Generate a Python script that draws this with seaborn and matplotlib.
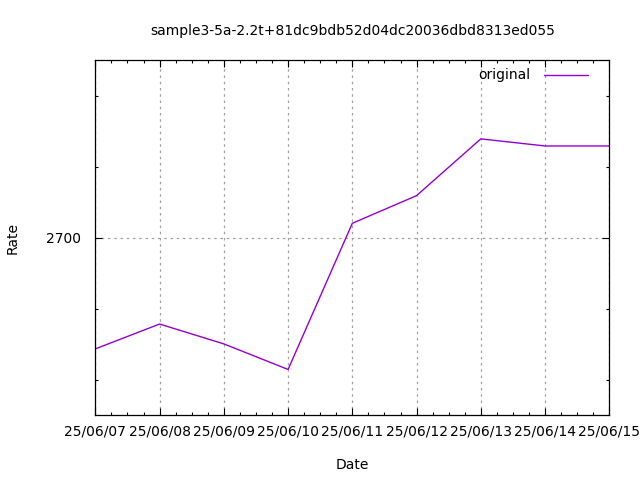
import matplotlib
matplotlib.use("Agg")
import matplotlib.pyplot as plt
import matplotlib.dates as mdates
from matplotlib.ticker import MultipleLocator
import seaborn as sns
import pandas as pd

dates = ["2025-06-07", "2025-06-08", "2025-06-09", "2025-06-10", "2025-06-11",
         "2025-06-12", "2025-06-13", "2025-06-14", "2025-06-15"]
rates = [2668.7, 2675.7, 2670.1, 2662.9, 2704.1, 2711.9, 2727.9, 2725.9, 2725.9]
tick_labels = ["25/06/07", "25/06/08", "25/06/09", "25/06/10", "25/06/11",
               "25/06/12", "25/06/13", "25/06/14", "25/06/15"]
series_name = "original"
title = "sample3-5a-2.2t+81dc9bdb52d04dc20036dbd8313ed055"

sns.set_style("ticks")
plt.rcParams["font.family"] = ["DejaVu Sans"]
plt.rcParams["text.color"] = "black"
plt.rcParams["axes.labelcolor"] = "black"
FS = 10
plt.rcParams["font.size"] = FS

df = pd.DataFrame({"Date": pd.to_datetime(dates), "Rate": rates, "series": series_name})

fig = plt.figure(figsize=(6.4, 4.8), dpi=100)
ax = fig.add_axes([0.149, 0.135, 0.803, 0.739])
sns.lineplot(data=df, x="Date", y="Rate", hue="series", palette=["#9400D3"],
             linewidth=1.0, ax=ax)

xd = pd.to_datetime(dates)
ax.set_xlim(xd[0], xd[-1])
ax.set_ylim(2650, 2750)
ax.set_xticks(xd)
ax.set_xticklabels(tick_labels)
ax.xaxis.set_minor_locator(mdates.HourLocator(byhour=[6, 12, 18]))
ax.set_yticks([2700])
ax.yaxis.set_minor_locator(MultipleLocator(20))

ax.grid(True, which="major", color="#a0a0a0", linestyle=(0, (2, 3)), linewidth=0.9)
ax.tick_params(which="both", direction="in", top=True, right=True, colors="black",
               labelsize=FS)
ax.tick_params(axis="x", which="major", length=5, width=0.8, pad=7)
ax.tick_params(axis="y", which="major", length=5, width=0.8, pad=10)
ax.tick_params(which="minor", length=2.5, width=0.8)
for s in ax.spines.values():
    s.set_color("black")
    s.set_linewidth(0.9)

ax.set_xlabel("Date", fontsize=FS, labelpad=14)
ax.set_ylabel("Rate", fontsize=FS, labelpad=19)
ax.set_title(title, fontsize=FS, pad=18)

leg = ax.legend(loc="upper right", bbox_to_anchor=(0.9864, 1.0169), frameon=False,
                fontsize=FS, handlelength=3.2, handletextpad=0.95, borderaxespad=0.6,
                markerfirst=False)

fig.savefig("out.png", dpi=100)
